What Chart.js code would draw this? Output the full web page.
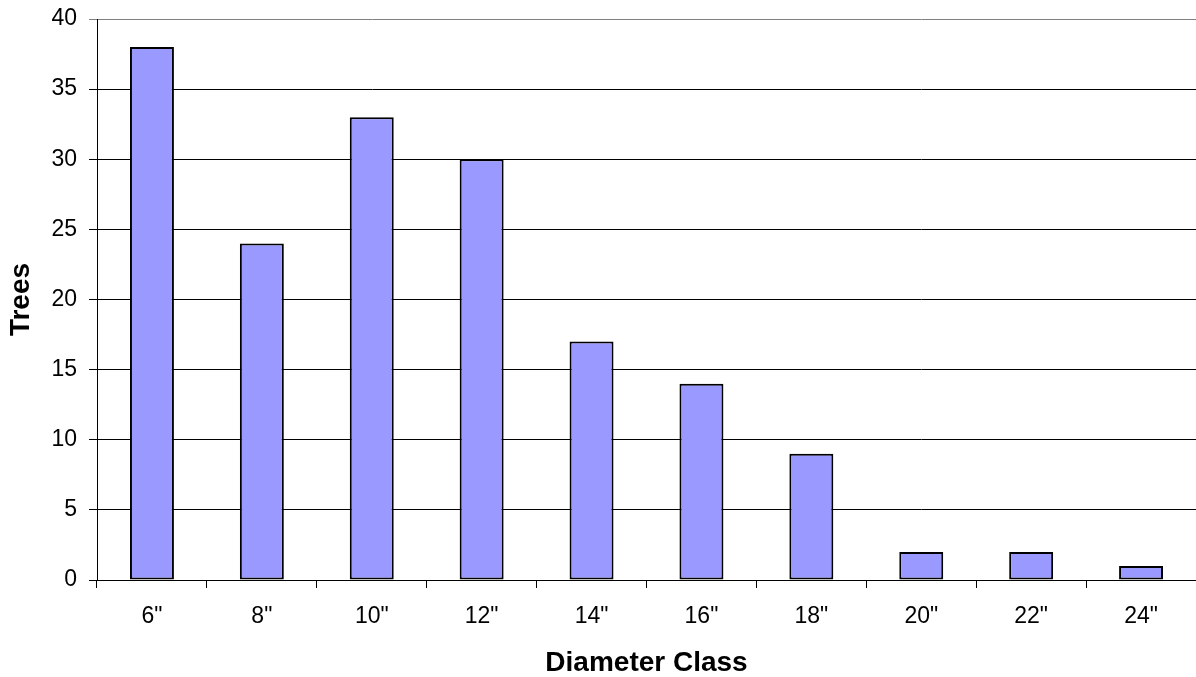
<!DOCTYPE html>
<html>
<head>
<meta charset="utf-8">
<script src="https://cdn.jsdelivr.net/npm/chart.js@4/dist/chart.umd.min.js"></script>
<style>
    html, body { margin: 0; padding: 0; background: #fff; }
    .chart-container { width: 1196px; height: 677px; }
</style>
</head>
<body>
<div class="chart-container">
    <canvas id="my-chart"></canvas>
</div>
<script>
const categories = ['6"', '8"', '10"', '12"', '14"', '16"', '18"', '20"', '22"', '24"'];
const trees = [38, 24, 33, 30, 17, 14, 9, 2, 2, 1];
const yTicks = [0, 5, 10, 15, 20, 25, 30, 35, 40];

const font = 'Arial, "Liberation Sans", sans-serif';

let ctx = document.querySelector('#my-chart').getContext('2d');
const chart = new Chart(ctx, {
    type: 'bar',
    data: {
        labels: categories,
        datasets: [{
            label: 'Trees',
            data: trees,
            backgroundColor: '#9999ff',
            borderColor: '#000',
            borderWidth: 2,
            borderSkipped: false,
            barPercentage: 0.4,
            categoryPercentage: 1
        }]
    },
    options: {
        responsive: true,
        maintainAspectRatio: false,
        animation: false,
        layout: { padding: { top: 19, right: 0, bottom: 0, left: 0 } },
        plugins: {
            legend: { display: false },
            tooltip: { enabled: false }
        },
        scales: {
            x: {
                offset: true,
                grid: {
                    offset: true,
                    drawOnChartArea: false,
                    drawTicks: true,
                    tickLength: 8,
                    color: '#000'
                },
                border: { color: '#000', width: 1 },
                ticks: { color: '#000', font: { family: font, size: 23 }, padding: 15, maxRotation: 0 },
                title: {
                    display: true,
                    text: 'Diameter Class',
                    color: '#000',
                    font: { family: font, size: 28, weight: 'bold' },
                    padding: { top: 0, bottom: -3 }
                },
                afterFit: (scale) => { scale.height = 97; }
            },
            y: {
                min: 0,
                max: 40,
                afterBuildTicks: (scale) => { scale.ticks = yTicks.map(v => ({ value: v })); },
                grid: {
                    color: (c) => c.tick && c.tick.value === 40 ? '#808080' : '#000',
                    tickLength: 8
                },
                border: { color: '#000', width: 1 },
                ticks: { color: '#000', font: { family: font, size: 23 }, padding: 12 },
                title: {
                    display: true,
                    text: 'Trees',
                    color: '#000',
                    font: { family: font, size: 28, weight: 'bold' },
                    padding: { top: 4, bottom: 0 }
                },
                afterFit: (scale) => {
                    scale.width = 97;
                    scale.paddingTop = 0;
                    scale.paddingBottom = 0;
                }
            }
        }
    }
});
</script>
</body>
</html>
